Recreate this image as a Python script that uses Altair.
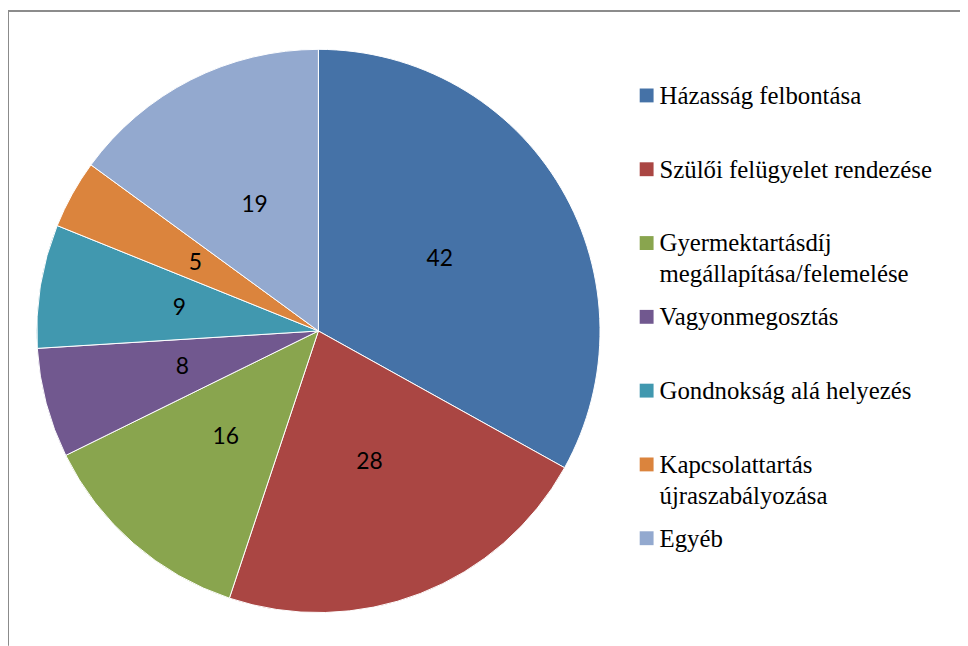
import altair as alt
import pandas as pd

categories = [
    "Házasság felbontása",
    "Szülői felügyelet rendezése",
    "Gyermektartásdíj megállapítása/felemelése",
    "Vagyonmegosztás",
    "Gondnokság alá helyezés",
    "Kapcsolattartás újraszabályozása",
    "Egyéb",
]
legend_labels = [
    "Házasság felbontása",
    "Szülői felügyelet rendezése",
    "Gyermektartásdíj\nmegállapítása/felemelése",
    "Vagyonmegosztás",
    "Gondnokság alá helyezés",
    "Kapcsolattartás\nújraszabályozása",
    "Egyéb",
]
values = [42, 28, 16, 8, 9, 5, 19]
colors = ["#4572A7", "#AA4643", "#89A54E", "#71588F", "#4198AF", "#DB843D", "#93A9CF"]

df = pd.DataFrame({
    "cat": categories,
    "label": legend_labels,
    "value": values,
    "idx": list(range(len(categories))),
})

color = alt.Color("cat:N", scale=alt.Scale(domain=categories, range=colors), legend=None)
cx, cy = 313, 323

arcs = alt.Chart(df).mark_arc(outerRadius=284, stroke="white", strokeWidth=1).encode(
    theta=alt.Theta("value:Q", stack=True),
    color=color,
    order=alt.Order("idx:Q"),
    x=alt.value(cx),
    y=alt.value(cy),
)

labels = alt.Chart(df).mark_text(radius=142, font="Lato", fontSize=23, color="black").encode(
    theta=alt.Theta("value:Q", stack=True),
    text="value:Q",
    order=alt.Order("idx:Q"),
    x=alt.value(cx),
    y=alt.value(cy),
)

ly = alt.Y("cat:N", sort=categories, scale=alt.Scale(type="point", range=[85.5, 532], padding=0), axis=None)

leg_sym = alt.Chart(df).mark_square(size=196, opacity=1).encode(
    x=alt.value(644),
    y=ly,
    color=color,
)

leg_txt = alt.Chart(df).mark_text(
    align="left", baseline="alphabetic", dy=8.5, lineBreak="\n", lineHeight=31,
    style="legtxt", color="black",
).encode(
    x=alt.value(657),
    y=ly,
    text=alt.Text("label:N"),
)

frame_left = alt.Chart(df).mark_rule(color="#8c8c8c", strokeWidth=1.5).encode(
    x=alt.value(0), y=alt.value(0.5), y2=alt.value(640)
)
frame_top = alt.Chart(df).mark_rule(color="#8c8c8c", strokeWidth=1.5).encode(
    x=alt.value(0), x2=alt.value(962), y=alt.value(0.5)
)

chart = alt.layer(arcs, labels, leg_sym, leg_txt, frame_left, frame_top).properties(
    width=960, height=638, autosize=alt.AutoSizeParams(type="none"), padding=0
).configure(
    style={"legtxt": {"font": "Liberation Serif", "fontSize": 25}}
).configure_text(
    font="Liberation Serif", fontSize=25
).configure_view(stroke=None)

chart.save("out.html", embed_options={"renderer": "svg", "actions": False})
